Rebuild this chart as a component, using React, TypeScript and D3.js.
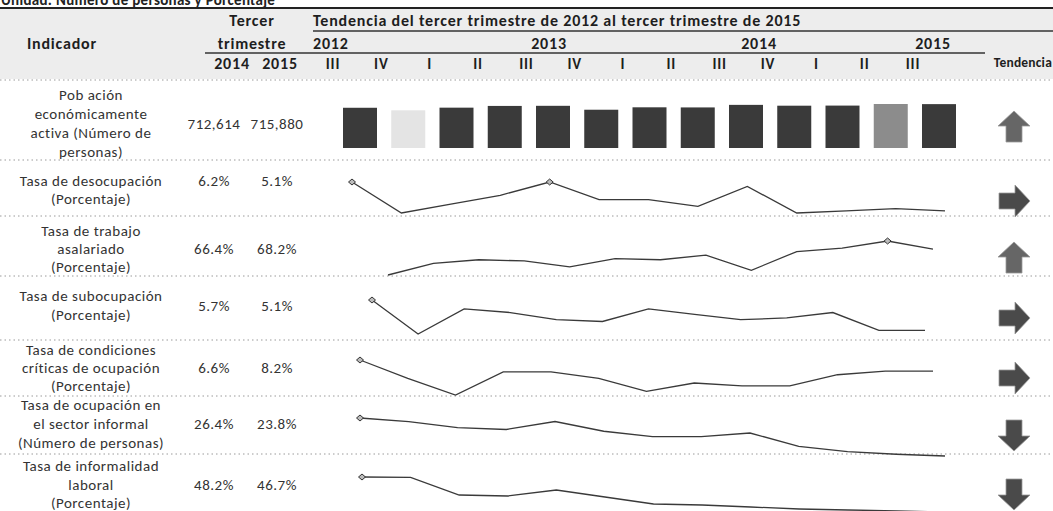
import React from 'react';
import * as d3 from 'd3';

// ---------- data ----------
const unitText = 'Unidad: Número de personas y Porcentaje';
const quarters = ['III', 'IV', 'I', 'II', 'III', 'IV', 'I', 'II', 'III', 'IV', 'I', 'II', 'III'];
const years = ['2012', '2013', '2014', '2015'];
const indicatorLabels = [
  ['Pob ación', 'económicamente', 'activa (Número de', 'personas)'],
  ['Tasa de desocupación', '(Porcentaje)'],
  ['Tasa de trabajo', 'asalariado', '(Porcentaje)'],
  ['Tasa de subocupación', '(Porcentaje)'],
  ['Tasa de condiciones', 'críticas de ocupación', '(Porcentaje)'],
  ['Tasa de ocupación en', 'el sector informal', '(Número de personas)'],
  ['Tasa de informalidad', 'laboral', '(Porcentaje)'],
];
const values2014 = ['712,614', '6.2%', '66.4%', '5.7%', '6.6%', '26.4%', '48.2%'];
const values2015 = ['715,880', '5.1%', '68.2%', '5.1%', '8.2%', '23.8%', '46.7%'];

const peaValues = [700000, 689000, 700500, 708000, 708500, 691500, 702000, 701500, 712614, 709000, 709500, 716400, 715880];
const desocupacion = [6.4, 5.0, 5.4, 5.8, 6.4, 5.6, 5.6, 5.3, 6.2, 5.0, 5.1, 5.2, 5.1];
const asalariado = [66.0, 67.0, 67.3, 67.2, 66.7, 67.4, 67.3, 67.7, 66.4, 68.0, 68.3, 68.9, 68.2];
const subocupacion = [6.8, 4.9, 6.3, 6.1, 5.7, 5.6, 6.3, 6.0, 5.7, 5.8, 6.1, 5.1, 5.1];
const condicionesCriticas = [9.4, 7.4, 5.6, 8.1, 8.1, 7.4, 6.0, 6.9, 6.6, 6.6, 7.8, 8.2, 8.2];
const sectorInformal = [28.1, 27.7, 27.0, 26.8, 27.7, 26.6, 26.0, 26.0, 26.4, 24.9, 24.3, 24.0, 23.8];
const informalidad = [57.2, 57.1, 51.8, 51.5, 53.3, 51.2, 49.1, 48.8, 48.2, 47.6, 47.3, 47.0, 46.7];
const trends = ['up', 'right', 'up', 'right', 'right', 'down', 'down'];

// ---------- layout ----------
const W = 1053;
const H = 511;
const FONT = "Carlito, 'Liberation Sans', Arial, sans-serif";
const separators = [80, 160, 216, 276, 340, 396, 454];
const labelLines = [
  [95, 114, 133, 152],
  [181, 199],
  [231, 249, 267],
  [296, 315],
  [350, 368, 386],
  [405, 424, 443],
  [466, 485, 503],
];
const valueY = [124, 181, 249, 306, 368, 424, 485];
const arrowY = [127, 201, 258, 318, 378, 435, 494];
const lineSeries = [desocupacion, asalariado, subocupacion, condicionesCriticas, sectorInformal, informalidad];
const lineBoxes = [
  { x0: 352, x1: 945, yMin: 213, yMax: 182 },
  { x0: 388, x1: 933, yMin: 275, yMax: 241 },
  { x0: 372, x1: 925, yMin: 334, yMax: 300 },
  { x0: 360, x1: 933, yMin: 395, yMax: 360 },
  { x0: 360, x1: 945, yMin: 456, yMax: 418 },
  { x0: 362, x1: 945, yMin: 512, yMax: 477 },
];
const yearX = [{ x: 313, a: 'start' }, { x: 549, a: 'middle' }, { x: 759, a: 'middle' }, { x: 933, a: 'middle' }];

const HEAD = { fontSize: 16, fontWeight: 'bold' as const, fill: '#1e1e1e', letterSpacing: 0.8 };
const BODY = { fontSize: 15, fill: '#333', letterSpacing: 0.5 };

function Arrow({ dir, cx, cy }: { dir: string; cx: number; cy: number }) {
  const rot = dir === 'up' ? 0 : dir === 'right' ? 90 : 180;
  const shape = 'M0,-16 L16,-1 L8,-1 L8,15 L-8,15 L-8,-1 L-16,-1 Z';
  return (
    <path
      d={shape}
      transform={`translate(${cx},${cy}) rotate(${rot})`}
      fill={dir === 'up' ? '#666' : '#4a4a4a'}
      stroke="#999"
      strokeWidth={0.8}
    />
  );
}

export default function App() {
  const qIdx = quarters.map((_, i) => i);
  const qScale = d3.scalePoint<number>().domain(qIdx).range([333, 913]);
  const barX = d3.scalePoint<number>().domain(qIdx).range([360, 939]);
  const barY = d3.scaleLinear().domain([525000, d3.max(peaValues) as number]).range([148, 104]);
  const peaMax = d3.max(peaValues) as number;
  const peaMin = d3.min(peaValues) as number;
  const barW = 34;

  return (
    <svg width={W} height={H} style={{ position: 'absolute', left: 0, top: 0, background: '#fff' }} fontFamily={FONT}>
      {/* header background */}
      <rect x={0} y={9} width={W} height={70} fill="#ededed" />
      <text x={1} y={5} fontSize={15} fontWeight="bold" fill="#222" letterSpacing={0.3}>{unitText}</text>
      <line x1={0} x2={W} y1={8} y2={8} stroke="#222" strokeWidth={2} />

      <text x={252} y={26} {...HEAD} textAnchor="middle">Tercer</text>
      <text x={252} y={49} {...HEAD} textAnchor="middle">trimestre</text>
      <text x={62} y={49} {...HEAD} textAnchor="middle">Indicador</text>
      <text x={313} y={26} {...HEAD}>
        Tendencia del tercer trimestre de 2012 al tercer trimestre de 2015
      </text>
      <line x1={313} x2={W} y1={31} y2={31} stroke="#333" strokeWidth={1.3} />
      {years.map((y, i) => (
        <text key={y} x={yearX[i].x} y={49} {...HEAD} textAnchor={yearX[i].a as any}>{y}</text>
      ))}
      <line x1={205} x2={985} y1={53} y2={53} stroke="#333" strokeWidth={1.3} />
      <text x={232} y={69} {...HEAD} textAnchor="middle">2014</text>
      <text x={280} y={69} {...HEAD} textAnchor="middle">2015</text>
      {quarters.map((q, i) => (
        <text key={i} x={qScale(i)} y={69} {...HEAD} fontSize={15} textAnchor="middle">{q}</text>
      ))}
      <text x={1052} y={67} {...HEAD} fontSize={13.5} letterSpacing={0.2} textAnchor="end">Tendencia</text>

      {/* separators */}
      {separators.map((s, i) => (
        <line key={i} x1={0} x2={W} y1={s} y2={s} stroke="#9a9a9a" strokeWidth={1} strokeDasharray="1.5 3" />
      ))}

      {/* indicator labels and values */}
      {indicatorLabels.map((lines, r) => (
        <g key={r}>
          {lines.map((l, k) => (
            <text key={k} x={91} y={labelLines[r][k]} dy="0.35em" {...BODY} textAnchor="middle">{l}</text>
          ))}
          <text x={214} y={valueY[r]} dy="0.35em" {...BODY} textAnchor="middle">{values2014[r]}</text>
          <text x={277} y={valueY[r]} dy="0.35em" {...BODY} textAnchor="middle">{values2015[r]}</text>
          <Arrow dir={trends[r]} cx={1014} cy={arrowY[r]} />
        </g>
      ))}

      {/* PEA column sparkline */}
      {peaValues.map((v, i) => (
        <rect
          key={i}
          x={(barX(i) as number) - barW / 2}
          y={barY(v)}
          width={barW}
          height={148 - barY(v)}
          fill={v === peaMin ? '#e4e4e4' : v === peaMax ? '#8c8c8c' : '#3a3a3a'}
        />
      ))}

      {/* line sparklines */}
      {lineSeries.map((vals, r) => {
        const b = lineBoxes[r];
        const x = d3.scalePoint<number>().domain(qIdx).range([b.x0, b.x1]);
        const ext = d3.extent(vals) as [number, number];
        const y = d3.scaleLinear().domain(ext).range([b.yMin, b.yMax]);
        const line = d3.line<number>().x((_, i) => x(i) as number).y((v) => y(v));
        return (
          <g key={r}>
            <path d={line(vals) || ''} fill="none" stroke="#3a3a3a" strokeWidth={1.3} />
            {vals.map((v, i) =>
              v === ext[1] ? (
                <path
                  key={i}
                  d={`M${(x(i) as number) - 3.5},${y(v)} L${x(i)},${y(v) - 3} L${(x(i) as number) + 3.5},${y(v)} L${x(i)},${y(v) + 3} Z`}
                  fill="#bbb"
                  stroke="#333"
                  strokeWidth={1}
                />
              ) : null
            )}
          </g>
        );
      })}
    </svg>
  );
}
